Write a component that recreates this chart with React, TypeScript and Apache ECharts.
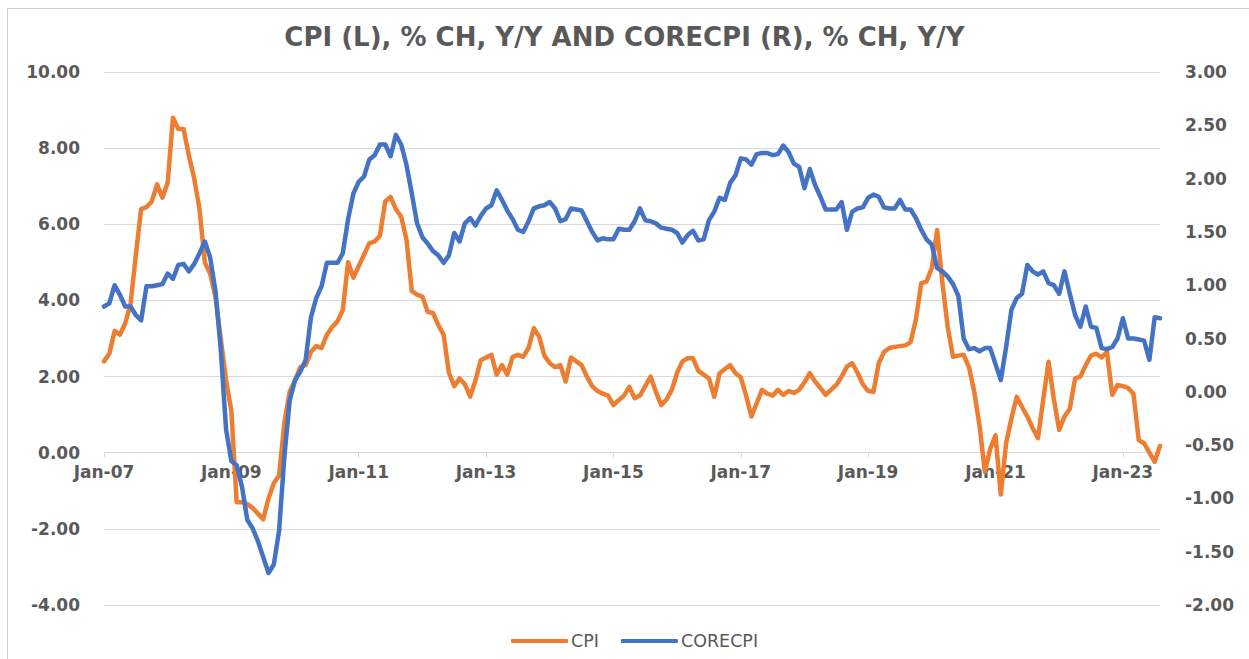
import React, { useEffect, useRef } from "react";
import * as echarts from "echarts";

const MONTHS = ["Jan", "Feb", "Mar", "Apr", "May", "Jun", "Jul", "Aug", "Sep", "Oct", "Nov", "Dec"];
const YEARS = ["07", "08", "09", "10", "11", "12", "13", "14", "15", "16", "17", "18", "19", "20", "21", "22", "23"];
const N_POINTS = 200; // Jan-07 .. Aug-23

const CPI = [
  2.4, 2.6, 3.2, 3.1, 3.4, 3.9, 5.2, 6.4, 6.45, 6.6, 7.05, 6.7,
  7.1, 8.8, 8.5, 8.5, 7.8, 7.2, 6.4, 5.0, 4.7, 4.1, 3.0, 1.9,
  1.1, -1.3, -1.3, -1.35, -1.45, -1.6, -1.75, -1.2, -0.8, -0.6, 0.8, 1.6,
  1.9, 2.25, 2.3, 2.65, 2.8, 2.75, 3.1, 3.3, 3.45, 3.75, 5.0, 4.6,
  4.9, 5.2, 5.5, 5.55, 5.7, 6.6, 6.72, 6.4, 6.2, 5.6, 4.25, 4.15,
  4.1, 3.7, 3.67, 3.35, 3.1, 2.1, 1.75, 1.95, 1.8, 1.47, 1.9, 2.43,
  2.5, 2.57, 2.05, 2.3, 2.05, 2.52, 2.57, 2.52, 2.75, 3.27, 3.05, 2.55,
  2.35, 2.25, 2.3, 1.87, 2.5, 2.4, 2.3, 2.0, 1.75, 1.62, 1.55, 1.5,
  1.25, 1.38, 1.5, 1.73, 1.43, 1.5, 1.75, 2.0, 1.6, 1.25, 1.4, 1.65,
  2.1, 2.4, 2.48, 2.48, 2.15, 2.05, 1.95, 1.47, 2.09, 2.2, 2.3, 2.09,
  1.98, 1.5, 0.95, 1.3, 1.65, 1.55, 1.5, 1.65, 1.52, 1.62, 1.57, 1.65,
  1.85, 2.09, 1.87, 1.7, 1.52, 1.65, 1.78, 2.0, 2.26, 2.35, 2.1, 1.8,
  1.62, 1.6, 2.35, 2.65, 2.75, 2.78, 2.8, 2.82, 2.9, 3.5, 4.45, 4.5,
  4.85, 5.85, 4.45, 3.3, 2.52, 2.55, 2.57, 2.25, 1.6, 0.7, -0.5, 0.1,
  0.46, -1.1, 0.25, 0.9, 1.47, 1.2, 0.95, 0.65, 0.38, 1.4, 2.39, 1.4,
  0.6, 0.95, 1.15, 1.95, 2.0, 2.3, 2.55, 2.6, 2.5, 2.65, 1.52, 1.78,
  1.75, 1.7, 1.55, 0.33, 0.25, 0.0, -0.24, 0.18,
];

const CORECPI = [
  0.8, 0.83, 1.0, 0.91, 0.8, 0.8, 0.72, 0.67, 0.99, 0.99, 1.0, 1.01,
  1.11, 1.06, 1.19, 1.2, 1.13, 1.2, 1.3, 1.41, 1.26, 0.95, 0.4, -0.35,
  -0.65, -0.69, -0.89, -1.2, -1.28, -1.4, -1.55, -1.7, -1.62, -1.3, -0.6, -0.08,
  0.11, 0.19, 0.3, 0.7, 0.88, 0.99, 1.21, 1.21, 1.21, 1.3, 1.62, 1.86,
  1.97, 2.02, 2.18, 2.22, 2.32, 2.32, 2.21, 2.41, 2.32, 2.13, 1.86, 1.58,
  1.45, 1.39, 1.32, 1.28, 1.21, 1.28, 1.49, 1.41, 1.58, 1.63, 1.56, 1.65,
  1.72, 1.75, 1.89, 1.8, 1.7, 1.62, 1.52, 1.5, 1.6, 1.72, 1.74, 1.75,
  1.78, 1.72, 1.6, 1.62, 1.72, 1.71, 1.7, 1.6, 1.5, 1.42, 1.44, 1.43,
  1.43, 1.53, 1.52, 1.52, 1.6, 1.72, 1.61, 1.6, 1.58, 1.54, 1.53, 1.52,
  1.49, 1.4, 1.47, 1.51, 1.42, 1.43, 1.61, 1.69, 1.82, 1.8, 1.96, 2.03,
  2.19, 2.18, 2.13, 2.23, 2.24, 2.24, 2.22, 2.23, 2.31, 2.25, 2.14, 2.11,
  1.91, 2.09, 1.94, 1.83, 1.71, 1.71, 1.71, 1.78, 1.52, 1.69, 1.72, 1.73,
  1.82, 1.85, 1.83, 1.73, 1.72, 1.72, 1.8, 1.71, 1.71, 1.63, 1.52, 1.43,
  1.38, 1.16, 1.13, 1.08, 1.01, 0.9, 0.5, 0.4, 0.41, 0.38, 0.41, 0.41,
  0.26, 0.11, 0.42, 0.77, 0.88, 0.92, 1.19, 1.13, 1.1, 1.13, 1.02, 1.0,
  0.92, 1.13, 0.92, 0.72, 0.61, 0.8, 0.61, 0.6, 0.41, 0.4, 0.42, 0.5,
  0.69, 0.5, 0.5, 0.49, 0.48, 0.3, 0.7, 0.69,
];

const CATEGORIES: string[] = [];
for (let i = 0; i < N_POINTS; i++) {
  CATEGORIES.push(MONTHS[i % 12] + "-" + YEARS[Math.floor(i / 12)]);
}

const TITLE = "CPI (L), % CH, Y/Y AND CORECPI (R), % CH, Y/Y";
const GRAY = "#595959";
const GRID = "#d9d9d9";
const AXIS_FONT = { color: GRAY, fontFamily: "DejaVu Sans", fontWeight: "bold", fontSize: 17 };

// grid geometry (pixels)
const GRID_TOP = 72;
const GRID_BOTTOM = 54;
const CHART_H = 659;
const LEFT_MIN = -4;
const LEFT_MAX = 10;

export default function App() {
  const ref = useRef<HTMLDivElement>(null);
  useEffect(() => {
    if (!ref.current) return;
    const chart = echarts.init(ref.current, null, { renderer: "svg" });
    const plotH = CHART_H - GRID_TOP - GRID_BOTTOM;
    // lift the category axis to the zero line of the left axis
    const zeroOffset = -(plotH * (0 - LEFT_MIN)) / (LEFT_MAX - LEFT_MIN);
    chart.setOption({
      animation: false,
      backgroundColor: "#ffffff",
      title: {
        text: TITLE,
        left: "center",
        top: 19,
        textStyle: { fontFamily: "DejaVu Sans", fontWeight: "bold", fontSize: 26, color: GRAY },
      },
      graphic: [
        {
          type: "polyline",
          silent: true,
          shape: { points: [[7.5, 660], [7.5, 8.5], [1250, 8.5]] },
          style: { stroke: "#d0d0d0", lineWidth: 1, fill: "none" },
        },
      ],
      legend: {
        left: 506,
        top: 627,
        itemWidth: 57,
        itemHeight: 4,
        itemGap: 22,
        icon: "roundRect",
        textStyle: { fontFamily: "DejaVu Sans", fontSize: 17.5, color: GRAY, padding: [0, 0, 0, -2] },
        data: ["CPI", "CORECPI"],
      },
      grid: { left: 104, right: 89, top: GRID_TOP, bottom: GRID_BOTTOM, containLabel: false },
      xAxis: {
        type: "category",
        data: CATEGORIES,
        boundaryGap: false,
        offset: zeroOffset,
        z: 0,
        axisLine: { onZero: false, lineStyle: { color: GRID, width: 1 } },
        axisTick: { show: true, interval: 23, length: 5, lineStyle: { color: GRID } },
        axisLabel: { interval: 23, margin: 11, ...AXIS_FONT },
        splitLine: { show: false },
      },
      yAxis: [
        {
          type: "value",
          min: LEFT_MIN,
          max: LEFT_MAX,
          interval: 2,
          z: 0,
          axisLine: { show: false },
          axisTick: { show: false },
          axisLabel: { margin: 24, ...AXIS_FONT, formatter: (v: number) => v.toFixed(2) },
          splitLine: { show: true, lineStyle: { color: GRID, width: 1 } },
        },
        {
          type: "value",
          min: -2,
          max: 3,
          interval: 0.5,
          position: "right",
          z: 0,
          axisLine: { show: false },
          axisTick: { show: false },
          axisLabel: { margin: 25, ...AXIS_FONT, formatter: (v: number) => v.toFixed(2) },
          splitLine: { show: false },
        },
      ],
      series: [
        {
          name: "CPI",
          type: "line",
          yAxisIndex: 0,
          data: CPI,
          showSymbol: false,
          symbol: "none",
          color: "#ED7D31",
          lineStyle: { color: "#ED7D31", width: 4.5, cap: "round", join: "round" },
          z: 5,
        },
        {
          name: "CORECPI",
          type: "line",
          yAxisIndex: 1,
          data: CORECPI,
          showSymbol: false,
          symbol: "none",
          color: "#4472C4",
          lineStyle: { color: "#4472C4", width: 4.5, cap: "round", join: "round" },
          z: 6,
        },
      ],
    });
    return () => chart.dispose();
  }, []);
  return (
    <div
      ref={ref}
      style={{ position: "fixed", left: 0, top: 0, width: 1249, height: 659, background: "#fff" }}
    />
  );
}
